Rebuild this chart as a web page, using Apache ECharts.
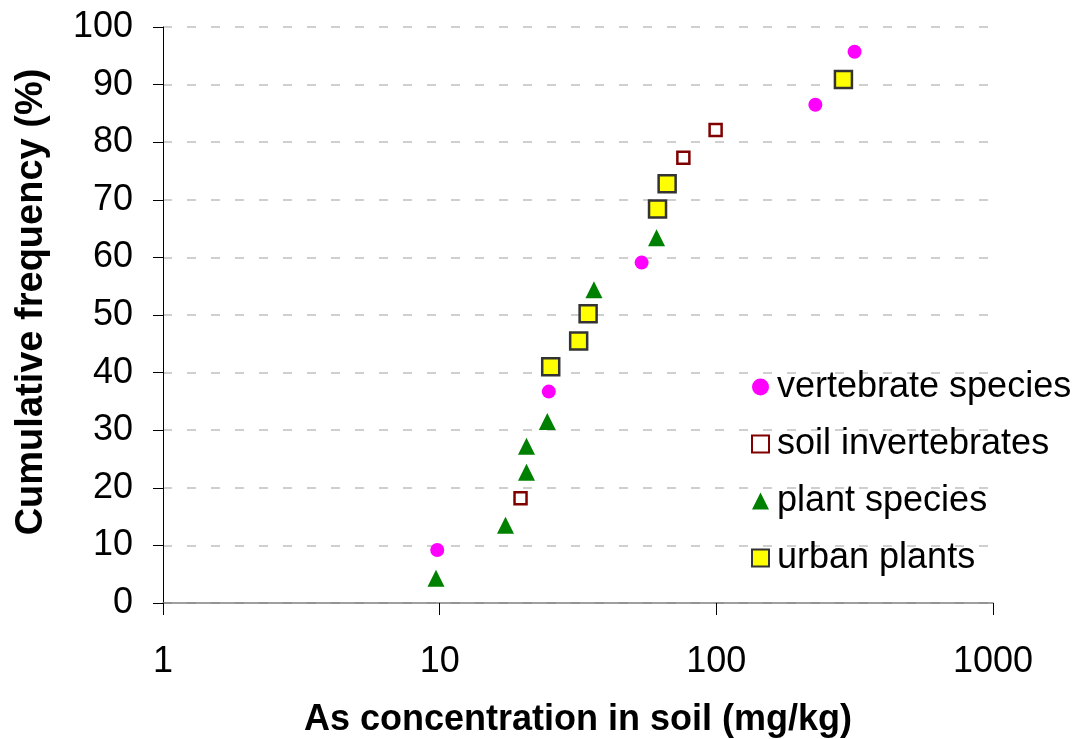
<!DOCTYPE html>
<html>
<head>
<meta charset="utf-8">
<script src="https://cdn.jsdelivr.net/npm/echarts@6/dist/echarts.min.js"></script>
<style>
html,body{margin:0;padding:0;background:#fff;}
#chart{width:1078px;height:739px;}
</style>
</head>
<body>
<div id="chart"></div>
<script>
// Data
const vertebrateX = [9.8, 24.8, 53.7, 228, 316];
const vertebrateY = [9.2, 36.7, 59.1, 86.5, 95.7];
const soilInvX = [19.6, 76.0, 99.4];
const soilInvY = [18.2, 77.3, 82.1];
const plantX = [9.7, 17.3, 20.6, 20.6, 24.5, 36.1, 60.8];
const plantY = [4.3, 13.5, 22.7, 27.2, 31.5, 54.4, 63.4];
const urbanX = [25.2, 31.8, 34.4, 61.3, 66.4, 288];
const urbanY = [41.0, 45.5, 50.2, 68.4, 72.8, 90.9];
const seriesNames = ['vertebrate species', 'soil invertebrates', 'plant species', 'urban plants'];
const xTickLabels = ['1', '10', '100', '1000'];
const yTickLabels = ['0','10','20','30','40','50','60','70','80','90','100'];
const xTitle = 'As concentration in soil (mg/kg)';
const yTitle = 'Cumulative frequency (%)';

function pairs(xs, ys){ return xs.map((x,i)=>[x, ys[i]]); }

const font = '"Liberation Sans", Arial, sans-serif';
const chart = echarts.init(document.getElementById('chart'), null, {renderer:'canvas'});
chart.setOption({
  animation: false,
  backgroundColor: '#ffffff',
  grid: {left: 163, right: 85, top: 27, bottom: 136, containLabel: false, outerBoundsMode: 'none'},
  xAxis: {
    type: 'log', logBase: 10, min: 1, max: 1000,
    name: xTitle, nameLocation: 'middle', nameGap: 99,
    nameTextStyle: {fontFamily: font, fontSize: 36, fontWeight: 'bold', color: '#000'},
    axisLine: {show: true, lineStyle: {color: '#808080', width: 1.5}},
    axisTick: {show: true, length: 12, lineStyle: {color: '#000', width: 1}},
    minorTick: {show: false},
    splitLine: {show: false},
    axisLabel: {fontFamily: font, fontSize: 36, color: '#000', margin: 41,
      formatter: function(v){ const s = String(Math.round(v)); return xTickLabels.indexOf(s) >= 0 ? s : ''; }}
  },
  yAxis: {
    type: 'value', min: 0, max: 100, interval: 10,
    name: yTitle, nameLocation: 'middle', nameGap: 112, nameRotate: 90,
    nameTextStyle: {fontFamily: font, fontSize: 38, fontWeight: 'bold', color: '#000', padding: [0, 0, 0, 26]},
    axisLine: {show: true, lineStyle: {color: '#000', width: 1}},
    axisTick: {show: true, length: 10, lineStyle: {color: '#000', width: 1}},
    splitLine: {show: true, lineStyle: {color: '#c0c0c0', type: [9, 15], width: 1.5}},
    axisLabel: {fontFamily: font, fontSize: 36, color: '#000', margin: 30,
      formatter: function(v){ return yTickLabels[Math.round(v/10)]; }}
  },
  legend: {
    orient: 'vertical', left: 746, top: 362,
    itemWidth: 17, itemHeight: 17, itemGap: 17,
    textStyle: {fontFamily: font, fontSize: 36, color: '#000', lineHeight: 40, padding: [0, 0, 0, 3]},
    data: [
      {name: seriesNames[0], itemStyle: {opacity: 1}},
      {name: seriesNames[1], itemStyle: {opacity: 1}},
      {name: seriesNames[2], itemStyle: {opacity: 1}},
      {name: seriesNames[3], itemStyle: {opacity: 1}}
    ]
  },
  series: [
    {name: seriesNames[0], type: 'scatter', symbol: 'circle', symbolSize: 14,
     itemStyle: {color: '#ff00ff', opacity: 1}, data: pairs(vertebrateX, vertebrateY)},
    {name: seriesNames[1], type: 'scatter', symbol: 'rect', symbolSize: 12,
     itemStyle: {color: '#ffffff', borderColor: '#800000', borderWidth: 2.5, opacity: 1}, data: pairs(soilInvX, soilInvY)},
    {name: seriesNames[2], type: 'scatter', symbol: 'triangle', symbolSize: 17,
     itemStyle: {color: '#008000', opacity: 1}, data: pairs(plantX, plantY)},
    {name: seriesNames[3], type: 'scatter', symbol: 'rect', symbolSize: 17,
     itemStyle: {color: '#ffff00', borderColor: '#333333', borderWidth: 2.5, opacity: 1}, data: pairs(urbanX, urbanY)}
  ]
});
</script>
</body>
</html>
